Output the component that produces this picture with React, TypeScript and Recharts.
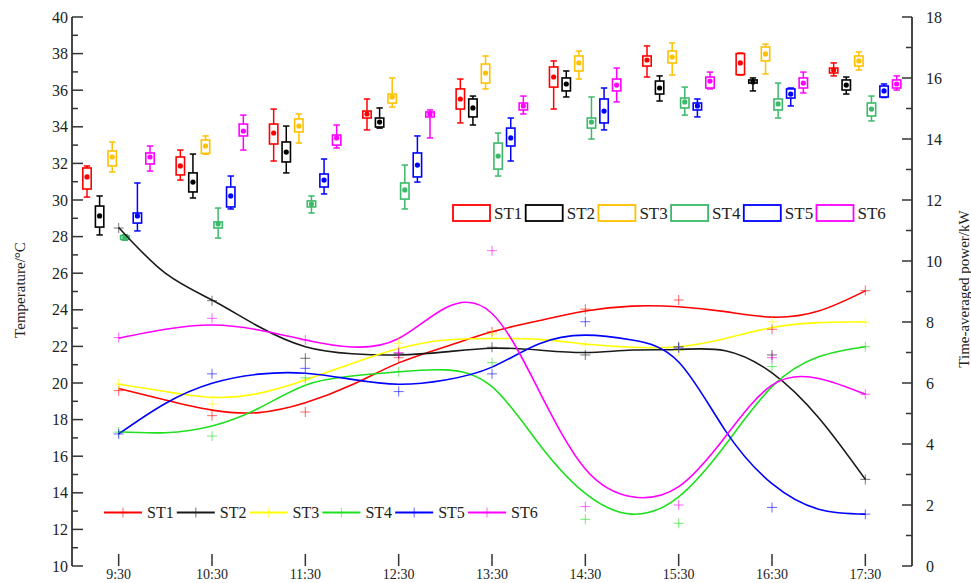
import React from "react";
import { ComposedChart, Bar, Line, XAxis, YAxis } from "recharts";

const times = ["9:30", "10:30", "11:30", "12:30", "13:30", "14:30", "15:30", "16:30", "17:30"];
const hours = [9.5, 10.5, 11.5, 12.5, 13.5, 14.5, 15.5, 16.5, 17.5];
const curveHours = [9.5, 10, 10.5, 11, 11.5, 12, 12.5, 13, 13.5, 14, 14.5, 15, 15.5, 16, 16.5, 17, 17.5];
const stations = ["ST1", "ST2", "ST3", "ST4", "ST5", "ST6"];

const boxColors = ["#ff0000", "#000000", "#ffc000", "#3cb96a", "#0000ff", "#ff00ff"];
const lineColors = ["#ff0000", "#1a1a1a", "#ffff00", "#1ee01e", "#0000ff", "#ff00ff"];

// temperature box stats per time: [low, q1, median, q3, high]
const st1Box = [
  [30.16, 30.6, 31.26, 31.75, 31.86],
  [31.09, 31.37, 31.86, 32.35, 32.73],
  [32.13, 33.06, 33.66, 34.15, 34.97],
  [33.83, 34.48, 34.7, 34.86, 35.52],
  [34.21, 34.97, 35.52, 36.07, 36.61],
  [34.97, 36.17, 36.72, 37.27, 37.6],
  [36.72, 37.32, 37.65, 37.87, 38.42],
  [36.83, 36.85, 37.49, 38.0, 38.03],
  [36.78, 36.94, 37.1, 37.21, 37.49],
];
const st2Box = [
  [28.09, 28.52, 29.13, 29.67, 30.22],
  [30.11, 30.44, 30.98, 31.48, 32.51],
  [31.48, 32.08, 32.62, 33.17, 34.04],
  [33.93, 33.99, 34.26, 34.48, 35.03],
  [34.1, 34.54, 35.03, 35.52, 35.68],
  [35.63, 35.96, 36.34, 36.67, 37.05],
  [35.41, 35.79, 36.12, 36.5, 36.78],
  [35.96, 36.39, 36.45, 36.56, 36.67],
  [35.79, 36.01, 36.28, 36.56, 36.72],
];
const st3Box = [
  [31.53, 31.86, 32.35, 32.68, 33.17],
  [32.5, 32.55, 32.95, 33.28, 33.5],
  [33.11, 33.72, 34.04, 34.43, 34.7],
  [35.08, 35.3, 35.63, 35.79, 36.67],
  [36.07, 36.39, 36.94, 37.43, 37.87],
  [36.61, 37.05, 37.49, 37.87, 38.14],
  [36.83, 37.49, 37.81, 38.14, 38.58],
  [36.89, 37.6, 37.98, 38.36, 38.52],
  [37.1, 37.32, 37.6, 37.87, 38.09],
];
const st4Box = [
  [27.8, 27.85, 27.95, 28.05, 28.1],
  [27.92, 28.47, 28.69, 28.8, 29.56],
  [29.29, 29.62, 29.78, 29.95, 30.22],
  [29.51, 30.05, 30.55, 30.93, 31.91],
  [31.31, 31.69, 32.4, 33.11, 33.66],
  [33.33, 33.93, 34.26, 34.48, 35.63],
  [34.64, 35.03, 35.36, 35.57, 36.17],
  [34.48, 34.92, 35.25, 35.52, 36.39],
  [34.32, 34.59, 34.97, 35.3, 35.68],
];
const st5Box = [
  [28.31, 28.74, 29.13, 29.29, 30.93],
  [29.51, 29.62, 30.22, 30.71, 31.31],
  [30.33, 30.71, 31.09, 31.42, 32.24],
  [30.98, 31.26, 31.91, 32.57, 33.5],
  [32.13, 32.95, 33.39, 33.93, 34.48],
  [33.83, 34.21, 34.86, 35.52, 36.12],
  [34.54, 34.92, 35.14, 35.3, 35.52],
  [35.14, 35.57, 35.79, 36.07, 36.12],
  [35.6, 35.63, 35.96, 36.23, 36.34],
];
const st6Box = [
  [31.58, 31.97, 32.35, 32.57, 32.95],
  [32.73, 33.5, 33.77, 34.15, 34.64],
  [32.84, 33.0, 33.39, 33.55, 34.1],
  [33.39, 34.54, 34.7, 34.81, 34.92],
  [34.7, 34.92, 35.14, 35.3, 35.68],
  [35.36, 35.96, 36.28, 36.61, 37.21],
  [36.07, 36.12, 36.5, 36.72, 36.99],
  [35.85, 36.12, 36.39, 36.67, 36.99],
  [36.01, 36.12, 36.34, 36.56, 36.78],
];

// measured time-averaged power (kW), the "+" markers
const st1Power = [5.75, 4.93, 5.05, 6.83, 7.68, 8.42, 8.72, 7.76, 9.03];
const st2Power = [11.08, 8.7, 6.81, 6.97, 7.17, 6.92, 7.19, 6.92, 2.84];
const st3Power = [5.97, 5.31, 6.1, 7.3, 7.6, 7.25, 7.06, 8.01, 7.99];
const st4Power = [4.39, 4.26, 6.17, 6.37, 6.67, 1.53, 1.4, 6.54, 7.19];
const st5Power = [4.33, 6.3, 6.48, 5.72, 6.3, 8.01, 7.15, 1.92, 1.7];
const st6Power = [7.49, 8.12, 7.41, 7.0, 10.34, 1.95, 2.0, 6.83, 5.63];

const st1Fit = [5.82, 5.44, 5.11, 5.03, 5.35, 5.94, 6.66, 7.19, 7.68, 8.04, 8.36, 8.52, 8.5, 8.34, 8.16, 8.36, 9.02];
const st2Fit = [11.1, 9.6, 8.72, 7.85, 7.19, 6.96, 6.92, 7.02, 7.14, 7.08, 7.0, 7.08, 7.1, 7.06, 6.33, 4.86, 2.84];
const st3Fit = [5.96, 5.72, 5.53, 5.66, 6.1, 6.64, 7.13, 7.41, 7.46, 7.43, 7.28, 7.17, 7.19, 7.46, 7.82, 7.98, 8.01];
const st4Fit = [4.4, 4.37, 4.59, 5.17, 5.93, 6.23, 6.37, 6.43, 5.88, 4.02, 2.38, 1.7, 2.27, 3.97, 5.88, 6.86, 7.19];
const st5Fit = [4.33, 5.33, 5.99, 6.29, 6.32, 6.12, 5.96, 6.1, 6.52, 7.28, 7.57, 7.41, 6.69, 4.44, 2.7, 1.86, 1.7];
const st6Fit = [7.47, 7.76, 7.9, 7.74, 7.41, 7.18, 7.46, 8.46, 8.28, 5.77, 3.18, 2.27, 2.6, 4.24, 5.93, 6.15, 5.63];

const tempTicks = Array.from({ length: 31 }, (_, i) => 10 + i);
const powerTicks = Array.from({ length: 19 }, (_, i) => i);

const boxSets = [st1Box, st2Box, st3Box, st4Box, st5Box, st6Box];
const powerSets = [st1Power, st2Power, st3Power, st4Power, st5Power, st6Power];
const fitSets = [st1Fit, st2Fit, st3Fit, st4Fit, st5Fit, st6Fit];

const rows = times.map((t, i) => {
  const row: any = { time: t };
  boxSets.forEach((set, s) => {
    row[`r${s}`] = [set[i][0], set[i][4]];
    row[`b${s}`] = set[i];
  });
  return row;
});

const FONT = "'Liberation Serif', 'Times New Roman', serif";
const AXIS = "#333";
const W = 971;
const H = 583;
const PLOT_BOTTOM = H - 17;

function BoxShape(props: any) {
  const { x, y, width, height, stats, color } = props;
  if (!stats || y == null || height == null) return null;
  const [lo, q1, med, q3, hi] = stats;
  const top = Math.min(y, y + height);
  const bottom = Math.max(y, y + height);
  const span = hi - lo || 1;
  const py = (v: number) => top + ((hi - v) / span) * (bottom - top);
  const cx = x + width / 2;
  const cap = 3.2;
  return (
    <g>
      <line x1={cx} x2={cx} y1={py(hi)} y2={py(lo)} stroke={color} strokeWidth={1.5} />
      <line x1={cx - cap} x2={cx + cap} y1={py(hi)} y2={py(hi)} stroke={color} strokeWidth={1.5} />
      <line x1={cx - cap} x2={cx + cap} y1={py(lo)} y2={py(lo)} stroke={color} strokeWidth={1.5} />
      <rect
        x={x + 0.8}
        y={py(q3)}
        width={width - 1.6}
        height={Math.max(py(q1) - py(q3), 1.5)}
        fill="#fff"
        stroke={color}
        strokeWidth={1.6}
      />
      <circle cx={cx} cy={py(med)} r={2.6} fill={color} />
    </g>
  );
}

function PlusMark({ cx, cy, color }: any) {
  if (cx == null || cy == null) return null;
  const s = 5;
  return (
    <g stroke={color} strokeOpacity={0.55} strokeWidth={1.1}>
      <line x1={cx - s} x2={cx + s} y1={cy} y2={cy} />
      <line x1={cx} x2={cx} y1={cy - s} y2={cy + s} />
    </g>
  );
}

function LeftTick({ x, y, payload }: any) {
  const major = payload.value % 2 === 0;
  return (
    <g>
      <line x1={x} x2={x + (major ? 11 : 6)} y1={y} y2={y} stroke={AXIS} strokeWidth={1.5} />
      {major && (
        <text x={x - 4} y={y} textAnchor="end" dominantBaseline="central" fontSize={16} fontFamily={FONT} fill="#222">
          {payload.value}
        </text>
      )}
    </g>
  );
}

function RightTick({ x, y, payload }: any) {
  const major = payload.value % 2 === 0;
  return (
    <g>
      <line x1={x} x2={x - (major ? 10 : 6)} y1={y} y2={y} stroke={AXIS} strokeWidth={1.5} />
      {major && (
        <text x={x + 14} y={y} textAnchor="start" dominantBaseline="central" fontSize={16} fontFamily={FONT} fill="#222">
          {payload.value}
        </text>
      )}
    </g>
  );
}

function BottomTick({ x, payload }: any) {
  const label = times[hours.indexOf(payload.value)] ?? "";
  return (
    <g>
      <line x1={x} x2={x} y1={PLOT_BOTTOM} y2={PLOT_BOTTOM - 12} stroke={AXIS} strokeWidth={1.5} />
      <text x={x} y={PLOT_BOTTOM + 13} textAnchor="middle" fontSize={14} fontFamily={FONT} fill="#222">
        {label}
      </text>
    </g>
  );
}

function Overlay() {
  return (
    <svg width={W} height={H} style={{ position: "absolute", left: 0, top: 0, pointerEvents: "none" }}>
      <text
        transform="translate(20,290) rotate(-90)"
        textAnchor="middle"
        dominantBaseline="central"
        fontSize={15}
        fontFamily={FONT}
        fill="#222"
      >
        Temperature/°C
      </text>
      <text
        transform="translate(964,289) rotate(-90)"
        textAnchor="middle"
        dominantBaseline="central"
        fontSize={15}
        fontFamily={FONT}
        fill="#222"
      >
        Time-averaged power/kW
      </text>
      {stations.map((name, i) => {
        const lx = 453 + i * 72.7;
        return (
          <g key={"bl" + name}>
            <rect x={lx} y={205} width={37} height={16} fill="none" stroke={boxColors[i]} strokeWidth={1.8} />
            <text x={lx + 41} y={213} dominantBaseline="central" fontSize={17} fontFamily={FONT} fill="#222">
              {name}
            </text>
          </g>
        );
      })}
      {stations.map((name, i) => {
        const lx = 104 + i * 72.8;
        return (
          <g key={"ll" + name}>
            <line x1={lx} x2={lx + 38} y1={512.5} y2={512.5} stroke={lineColors[i]} strokeWidth={2} />
            <PlusMark cx={lx + 19} cy={512.5} color={lineColors[i]} />
            <text x={lx + 43} y={512.5} dominantBaseline="central" fontSize={16} fontFamily={FONT} fill="#222">
              {name}
            </text>
          </g>
        );
      })}
    </svg>
  );
}

export default function App() {
  return (
    <div style={{ position: "absolute", left: 0, top: 0, width: W, height: H, background: "#fff" }}>
      <ComposedChart
        width={W}
        height={H}
        data={rows}
        margin={{ top: 17, right: 0, bottom: 0, left: 0 }}
        barGap={2.6}
      >
        <XAxis xAxisId="cat" dataKey="time" type="category" hide />
        <XAxis
          xAxisId="num"
          dataKey="h"
          type="number"
          domain={[9, 18]}
          ticks={hours}
          interval={0}
          height={17}
          tickSize={0}
          tickMargin={0}
          tickLine={false}
          tick={<BottomTick />}
          axisLine={{ stroke: AXIS, strokeWidth: 1.8 }}
          allowDataOverflow
        />
        <XAxis
          xAxisId="top"
          orientation="top"
          type="number"
          domain={[9, 18]}
          height={0}
          tick={false}
          tickLine={false}
          axisLine={{ stroke: AXIS, strokeWidth: 1.8 }}
        />
        <YAxis
          yAxisId="left"
          orientation="left"
          type="number"
          domain={[10, 40]}
          ticks={tempTicks}
          interval={0}
          width={72}
          tickSize={0}
          tickMargin={0}
          tickLine={false}
          tick={<LeftTick />}
          axisLine={{ stroke: AXIS, strokeWidth: 1.8 }}
          allowDataOverflow
        />
        <YAxis
          yAxisId="right"
          orientation="right"
          type="number"
          domain={[0, 18]}
          ticks={powerTicks}
          interval={0}
          width={59}
          tickSize={0}
          tickMargin={0}
          tickLine={false}
          tick={<RightTick />}
          axisLine={{ stroke: AXIS, strokeWidth: 1.8 }}
          allowDataOverflow
        />
        {fitSets.map((fit, s) => (
          <Line
            key={"fit" + s}
            xAxisId="num"
            yAxisId="right"
            data={curveHours.map((h, i) => ({ h, p: fit[i] }))}
            dataKey="p"
            type="natural"
            stroke={lineColors[s]}
            strokeWidth={1.6}
            dot={false}
            activeDot={false}
            isAnimationActive={false}
          />
        ))}
        {powerSets.map((pw, s) => (
          <Line
            key={"pt" + s}
            xAxisId="num"
            yAxisId="right"
            data={hours.map((h, i) => ({ h, p: pw[i] }))}
            dataKey="p"
            stroke="none"
            strokeWidth={0}
            dot={(props: any) => <PlusMark key={"m" + s + "-" + props.index} cx={props.cx} cy={props.cy} color={lineColors[s]} />}
            activeDot={false}
            isAnimationActive={false}
          />
        ))}
        {stations.map((name, s) => (
          <Bar
            key={name}
            xAxisId="cat"
            yAxisId="left"
            dataKey={`r${s}`}
            barSize={10}
            isAnimationActive={false}
            shape={(props: any) => <BoxShape {...props} stats={props.payload[`b${s}`]} color={boxColors[s]} />}
          />
        ))}
      </ComposedChart>
      <Overlay />
    </div>
  );
}
